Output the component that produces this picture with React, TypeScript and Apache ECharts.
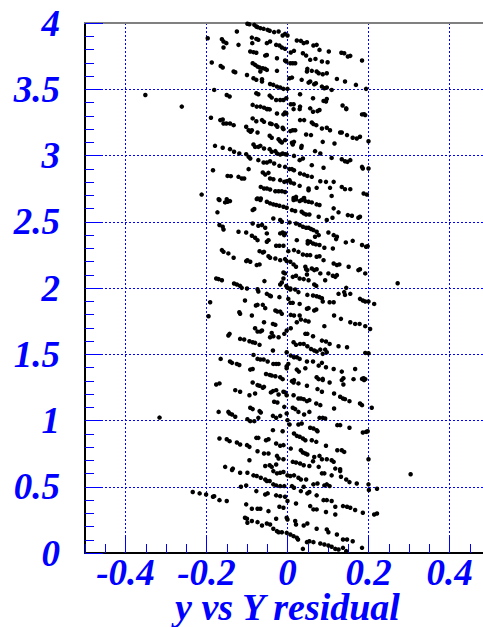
import React, { useEffect, useRef } from "react";
import * as echarts from "echarts";

// x tick labels (primary divisions) and y range
const xMajorTicks = [-0.4, -0.2, 0, 0.2, 0.4];
const xRange = [-0.5, 0.5];
const yRange = [0, 4];
const axisTitle = "y vs Y residual";

// residual (x) vs y points, grouped by y band
const band1: number[][] = [
  [-0.099,3.994],[-0.094,3.99],[-0.082,3.986],[-0.077,3.974],[-0.074,3.969],[-0.067,3.961],[-0.059,3.956],[-0.049,3.948],[-0.044,3.941],[-0.033,3.931],[-0.022,3.936],[-0.012,3.906],[-0.006,3.918],[0.0,3.906],
  [-0.125,3.936],[-0.088,3.89],[-0.077,3.88],[-0.072,3.873],[-0.087,3.848],[-0.051,3.848],[-0.043,3.86],[-0.028,3.835],[-0.02,3.83],[-0.014,3.815],[-0.006,3.805],
  [-0.197,3.885],[-0.162,3.878],[-0.158,3.86],[-0.151,3.848],[-0.158,3.815],[-0.121,3.835],
  [0.023,3.868],[0.033,3.865],[0.04,3.848],[0.048,3.855],[0.064,3.83],[0.072,3.835],[0.079,3.797],[0.102,3.785],[0.133,3.775],[0.14,3.772],[0.149,3.747],[0.155,3.752],[0.184,3.717],
  [0.016,3.79],[0.008,3.777],[0.038,3.772],[0.046,3.754],[0.056,3.722],[0.069,3.729],[0.085,3.709],[0.099,3.704],
  [-0.092,3.785],[-0.084,3.78],[-0.077,3.775],[-0.055,3.754],[-0.051,3.759],[-0.026,3.734],[-0.006,3.717],[-0.003,3.709],[0.007,3.696],[0.013,3.696],[0.019,3.696],
  [-0.187,3.702],[-0.165,3.676],[-0.16,3.664],[-0.133,3.634],[-0.129,3.628],[-0.1,3.608],[-0.086,3.696],[-0.08,3.684],[-0.074,3.671],[-0.069,3.664],[-0.061,3.659],[-0.055,3.654],[-0.051,3.646],[-0.067,3.634],[-0.026,3.639],
  [0.049,3.654],[0.048,3.634],[0.06,3.639],[0.072,3.634],[0.077,3.621],[0.087,3.613],[0.097,3.621],[0.035,3.571],[0.052,3.55],[0.056,3.558],[0.066,3.538],[0.07,3.545],[0.085,3.52],[0.091,3.508],[0.097,3.513],[0.109,3.495],[0.122,3.578],[0.142,3.558],[0.169,3.533],[0.194,3.503],
  [0.005,3.583],[0.011,3.588],[-0.084,3.583],[-0.077,3.571],[-0.063,3.576],[-0.063,3.558],[-0.043,3.54],[-0.035,3.533],[-0.026,3.52],[-0.018,3.513],[-0.01,3.503],[0.0,3.503],
  [-0.181,3.495],[-0.15,3.457],[-0.143,3.445],[-0.077,3.47],[-0.072,3.462],[-0.044,3.452],[-0.039,3.437],[-0.028,3.419],[-0.018,3.419],[-0.01,3.419],[-0.003,3.432],[0.031,3.462],[0.063,3.432],[0.089,3.412],[0.097,3.427],[0.095,3.407],[0.136,3.377],[0.145,3.356],
  [-0.086,3.382],[-0.076,3.369],[-0.067,3.369],[-0.058,3.361],[-0.049,3.351],[0.008,3.387],[0.015,3.387],[0.031,3.369],[0.056,3.356],[-0.261,3.369]
];

const band2: number[][] = [
  [-0.051,3.35],[-0.044,3.348],[-0.026,3.317],[-0.01,3.31],[-0.003,3.317],[-0.006,3.325],[0.015,3.35],[0.03,3.35],[0.063,3.33],[0.074,3.335],[0.079,3.343],[0.145,3.35],[0.184,3.31],[0.189,3.312],[0.192,3.305],
  [-0.189,3.285],[-0.166,3.267],[-0.16,3.272],[-0.158,3.242],[-0.151,3.242],[-0.142,3.242],[-0.133,3.229],
  [-0.102,3.217],[-0.096,3.191],[-0.092,3.184],[-0.088,3.191],[-0.091,3.179],[-0.074,3.174],
  [-0.086,3.28],[-0.077,3.259],[-0.063,3.267],[-0.058,3.254],[-0.043,3.242],[-0.039,3.237],[-0.028,3.229],[-0.025,3.217],[-0.012,3.209],[-0.01,3.199],
  [0.007,3.184],[0.013,3.191],[0.019,3.191],[0.031,3.267],[0.041,3.267],[0.06,3.249],[0.064,3.237],[0.071,3.229],[0.085,3.204],[0.097,3.209],[0.105,3.191],[0.13,3.174],[0.134,3.174],[0.147,3.154],[0.161,3.134],[0.171,3.128],[0.179,3.141],
  [-0.044,3.149],[-0.039,3.134],[-0.022,3.123],[-0.018,3.108],[-0.014,3.098],[-0.006,3.116],[0.011,3.096],[0.016,3.103],[0.013,3.083],
  [0.046,3.159],[0.058,3.154],[0.035,3.073],[0.034,3.058],[0.087,3.103],[0.116,3.091],[0.2,3.108],
  [-0.179,3.073],[-0.16,3.058],[-0.142,3.048],[-0.132,3.028],[-0.119,3.015],[-0.102,3.01],[-0.096,2.99],[-0.092,2.977],[-0.084,3.083],[-0.08,3.065],[-0.072,3.065],[-0.067,3.073],[-0.058,3.053],[-0.044,3.048],[-0.039,3.028],[-0.03,3.033],[-0.026,3.015],[-0.018,3.008],[-0.012,3.015],[-0.006,3.01],[-0.002,3.008],
  [0.016,2.997],[0.03,2.965],[0.038,2.977],[0.068,3.033],[0.081,3.015],[0.109,2.982],[0.134,2.972],[0.142,2.957],[0.148,2.952],[0.155,2.965],[0.184,2.914],[0.186,2.902],[0.2,2.902],
  [-0.072,2.965],[-0.059,2.947],[-0.051,2.947],[-0.043,2.957],[-0.033,2.94],[-0.02,2.922],[-0.006,2.914],
  [-0.184,2.889],[-0.148,2.846],[-0.14,2.844],[-0.121,2.839],[-0.113,2.826],[-0.107,2.826],[-0.096,2.897],[-0.061,2.872],[-0.055,2.856],[-0.047,2.869],[-0.043,2.826],[-0.035,2.821],[-0.018,2.814],[-0.008,2.801],[-0.002,2.806],
  [0.005,2.897],[0.011,2.897],[0.016,2.889],[0.031,2.864],[0.041,2.856],[0.049,2.846],[0.06,2.839],[0.081,2.806],[0.095,2.801],[0.114,2.801],[0.06,2.927],[0.089,2.907],
  [-0.066,2.763],[-0.058,2.751],[-0.051,2.751],[-0.043,2.743],[-0.03,2.73],[-0.022,2.73],[-0.014,2.73],[-0.006,2.725],
  [0.005,2.814],[0.008,2.796],[0.016,2.788],[0.03,2.771],[0.052,2.751],[0.052,2.738],[0.072,2.756],[0.105,2.756],[0.134,2.763],[0.142,2.746],[0.155,2.746],[0.188,2.713],[0.196,2.705],[0.109,2.695],
  [-0.212,2.705],[-0.17,2.67],[-0.15,2.67],[-0.074,2.675],[-0.066,2.675],[0.015,2.68],[0.021,2.688],[0.04,2.675],[0.041,2.68]
];

const band3: number[][] = [
  [-0.168,2.664],[-0.154,2.646],[-0.148,2.651],[-0.142,2.656],[-0.076,2.671],[-0.067,2.664],[-0.051,2.651],[-0.043,2.639],[-0.035,2.631],[-0.028,2.626],[-0.02,2.621],[-0.01,2.613],[-0.002,2.606],
  [0.015,2.664],[0.021,2.669],[0.03,2.656],[0.035,2.664],[0.044,2.656],[0.052,2.651],[0.06,2.646],[0.072,2.631],[0.079,2.626],[0.011,2.588],[0.019,2.581],[0.035,2.576],[0.04,2.563],[0.046,2.555],[0.054,2.555],[0.077,2.538],[0.097,2.513],[0.114,2.601],[0.126,2.571],[0.111,2.53],[0.149,2.55],[0.159,2.545],[0.175,2.53],[0.179,2.538],
  [-0.173,2.571],[-0.086,2.588],[-0.082,2.596],[-0.035,2.525],[-0.018,2.513],[-0.014,2.5],[0.005,2.495],[0.021,2.487],
  [-0.168,2.475],[-0.16,2.462],[-0.158,2.442],[-0.121,2.424],[-0.102,2.419],[-0.086,2.487],[-0.072,2.47],[-0.063,2.475],[-0.055,2.455],[-0.051,2.412],[-0.088,2.394],[-0.08,2.379],[-0.074,2.361],[-0.051,2.349],[-0.047,2.361],[-0.018,2.412],[-0.012,2.419],[-0.006,2.412],[-0.008,2.399],
  [0.03,2.475],[0.038,2.462],[0.046,2.455],[0.052,2.455],[0.058,2.445],[0.064,2.437],[0.072,2.424],[0.077,2.399],[0.068,2.387],[0.101,2.419],[0.114,2.399],[0.122,2.387],[0.12,2.369],[0.144,2.344],[0.161,2.356],[0.184,2.324],[0.194,2.311],[0.198,2.316],[0.023,2.361],[0.05,2.354],[0.056,2.349],[0.063,2.336],[0.07,2.329],[0.079,2.324],[0.091,2.304],[0.112,2.298],[0.05,2.336],
  [-0.028,2.319],[-0.02,2.319],[-0.01,2.319],[0.002,2.278],[0.016,2.286],[0.027,2.273],[0.038,2.253],[0.048,2.248],[0.056,2.248],[0.072,2.236],[0.079,2.24],[0.089,2.21],[0.114,2.185],[0.122,2.173],[0.128,2.178],[0.151,2.16],[0.175,2.135],[0.179,2.142],[0.192,2.11],
  [-0.162,2.286],[-0.158,2.273],[-0.146,2.261],[-0.133,2.228],[-0.102,2.203],[-0.092,2.198],[-0.099,2.21],[-0.076,2.173],[-0.069,2.178],[-0.069,2.278],[-0.061,2.268],[-0.058,2.273],[-0.047,2.24],[-0.043,2.228],[-0.03,2.223],[-0.018,2.21],[-0.006,2.218],[-0.002,2.203],[0.007,2.198],[0.015,2.178],[0.021,2.16],
  [0.044,2.16],[0.046,2.142],[0.049,2.135],[0.06,2.147],[0.066,2.135],[0.072,2.142],[0.081,2.11],[0.101,2.11],[0.118,2.084],[0.122,2.097],[0.048,2.102],
  [-0.176,2.072],[-0.17,2.067],[-0.162,2.059],[-0.132,2.034],[-0.125,2.026],[-0.117,2.016],[-0.113,2.001],[-0.1,1.996],[-0.074,1.991],[-0.057,2.052],[-0.018,2.026],[-0.014,2.042],[-0.01,2.117],[-0.003,2.016],[0.0,2.001],[0.007,1.996],[0.013,2.084],[0.021,2.092],[0.03,2.072],[0.04,2.067],[0.052,2.059],[0.066,2.026],[0.071,2.016],[0.093,2.059],[0.112,2.092],[0.145,2.001],[-0.006,2.11],[-0.01,2.072]
];

const band4: number[][] = [
  [-0.072,1.974],[-0.051,1.956],[-0.044,1.943],[-0.041,1.938],[-0.02,1.931],[0.007,1.989],[0.019,1.989],[0.027,1.969],[0.049,1.948],[0.063,1.943],[0.072,1.938],[0.079,1.931],[0.085,1.923],[0.126,1.956],[0.14,1.969],[0.142,1.948],[0.155,1.956],[0.179,1.918],[0.186,1.906],[0.192,1.898],[0.2,1.898],[0.214,1.88],
  [-0.191,1.893],[-0.195,1.787],[-0.105,1.906],[-0.078,1.868],[-0.074,1.873],[-0.061,1.873],[-0.055,1.848],[-0.03,1.83],[-0.025,1.822],[-0.018,1.822],[-0.014,1.805],[-0.119,1.817],[-0.117,1.805],[-0.088,1.792],[-0.058,1.742],[-0.036,1.729],[-0.03,1.722],
  [0.002,1.918],[0.007,1.888],[0.013,1.888],[0.03,1.88],[0.048,1.843],[0.052,1.848],[0.066,1.83],[0.071,1.838],[0.087,1.898],[0.104,1.893],[0.114,1.893],
  [0.008,1.797],[0.016,1.792],[0.03,1.792],[0.033,1.762],[0.044,1.754],[0.052,1.747],[0.023,1.742],[0.115,1.792],[0.132,1.767],[0.155,1.742],[0.167,1.729],[0.178,1.729],[0.192,1.712],[0.204,1.691],[0.091,1.712],
  [-0.143,1.654],[-0.146,1.641],[-0.08,1.696],[-0.074,1.671],[-0.067,1.671],[-0.063,1.679],[-0.039,1.661],[-0.043,1.628],[-0.035,1.636],[-0.022,1.628],[-0.008,1.654],[-0.002,1.679],[0.008,1.696],
  [-0.117,1.616],[-0.107,1.611],[-0.094,1.598],[-0.086,1.591],[-0.08,1.586],[-0.069,1.571],[-0.036,1.528],[-0.002,1.515],[0.015,1.591],[0.021,1.571],[0.031,1.578],[0.04,1.578],[0.044,1.654],[0.049,1.654],[0.063,1.636],[0.085,1.603],[0.095,1.596],[0.104,1.578],[0.049,1.56],[0.058,1.54],[0.066,1.528],[0.072,1.52],[0.081,1.535],[0.087,1.503],[0.097,1.515],[0.126,1.56],[0.147,1.553],[0.192,1.51],[0.2,1.508],[0.093,1.535],
  [-0.165,1.465],[-0.142,1.445],[-0.137,1.435],[-0.125,1.427],[-0.119,1.419],[-0.084,1.495],[-0.074,1.465],[-0.067,1.46],[-0.059,1.46],[-0.049,1.445],[-0.035,1.427],[-0.028,1.427],[-0.022,1.427],[-0.002,1.409],[0.002,1.427],[0.008,1.49],[0.016,1.477],[0.023,1.477],[0.03,1.465],[0.048,1.445],[0.063,1.445],[0.077,1.414],[0.085,1.435],[0.095,1.402],[0.114,1.389],[0.134,1.369],[0.167,1.389],
  [-0.092,1.384],[-0.086,1.389],[-0.053,1.351],[-0.044,1.344],[-0.039,1.339],[-0.03,1.334],[-0.018,1.326],[-0.002,1.394],[0.023,1.384],[0.028,1.369],[0.044,1.394],[0.072,1.326],[0.087,1.314],[0.138,1.319],[0.184,1.314],[0.188,1.319]
];

const band5: number[][] = [
  [-0.176,1.272],[-0.168,1.28],[-0.086,1.287],[-0.074,1.267],[-0.069,1.262],[-0.061,1.247],[-0.058,1.254],[-0.012,1.312],[0.011,1.297],[0.015,1.287],[0.016,1.305],[0.027,1.28],[0.048,1.262],[0.077,1.312],[0.087,1.305],[0.104,1.287],[0.134,1.305],[0.138,1.272],[0.163,1.312],[0.189,1.305],[0.192,1.312],
  [-0.129,1.229],[-0.117,1.217],[-0.094,1.191],[-0.08,1.204],[-0.041,1.212],[-0.036,1.222],[-0.028,1.229],[-0.022,1.196],[-0.01,1.217],[-0.006,1.212],[-0.002,1.191],[0.015,1.191],[0.027,1.166],[0.033,1.166],[0.04,1.161],[0.048,1.146],[0.054,1.154],[0.071,1.128],[0.081,1.116],[0.074,1.237],[0.085,1.217],[0.115,1.204],[0.13,1.179],[0.137,1.166],[0.142,1.161],[0.153,1.146],[0.179,1.128],[0.184,1.116],[0.208,1.096],
  [-0.17,1.065],[-0.146,1.065],[-0.143,1.053],[-0.137,1.045],[-0.129,1.028],[-0.099,1.01],[-0.092,0.995],[-0.082,0.995],[-0.072,1.02],[-0.069,1.071],[-0.066,1.06],[-0.092,1.096],[-0.086,1.086],[-0.033,1.141],[-0.025,1.136],[-0.036,1.035],[-0.028,1.02],[-0.018,1.035],[-0.008,1.103],[-0.002,1.053],[0.0,1.003],[0.013,1.096],[0.019,1.086],[0.027,1.065],[0.041,1.045],[0.054,1.065],[0.079,1.02],[0.087,1.02],[0.093,1.015],[0.115,1.091],
  [0.005,0.97],[0.016,0.902],[0.023,0.884],[0.027,0.97],[0.035,0.977],[0.056,0.945],[0.064,0.94],[0.072,0.927],[0.074,0.919],[0.123,0.965],[0.13,0.965],[0.153,0.945],[0.186,0.909],[0.194,0.914],[0.198,0.919],
  [-0.036,0.927],[-0.012,0.919],[-0.168,0.864],[-0.15,0.859],[-0.143,0.844],[-0.125,0.834],[-0.117,0.819],[-0.1,0.814],[-0.094,0.801],[-0.077,0.869],[-0.072,0.869],[-0.053,0.851],[-0.047,0.859],[-0.028,0.826],[-0.018,0.809],[-0.01,0.814],[0.008,0.788],[0.03,0.877],[0.038,0.864],[0.044,0.851],[0.06,0.851],[0.071,0.839],[0.095,0.809],[0.123,0.776],[0.134,0.776],[0.14,0.763],
  [-0.074,0.768],[-0.058,0.751],[-0.047,0.751],[-0.026,0.733],[-0.022,0.713],[-0.01,0.708],[0.033,0.776],[0.038,0.758],[0.044,0.751],[0.049,0.743],[0.066,0.725],[0.079,0.733],[0.085,0.708],[0.097,0.708],[0.109,0.7],[0.114,0.688],[0.2,0.708],[-0.094,0.7],
  [-0.154,0.65],[-0.135,0.637],[-0.055,0.657],[-0.044,0.662],[-0.039,0.65],[-0.028,0.668],[0.013,0.688],[0.021,0.683],[0.031,0.675],[0.04,0.662],[0.054,0.657],[0.063,0.693],[0.077,0.65],[0.118,0.637],[0.13,0.632]
];

const band6: number[][] = [
  [-0.137,0.626],[-0.117,0.606],[-0.099,0.606],[-0.084,0.586],[-0.076,0.581],[-0.066,0.568],[-0.055,0.555],[-0.051,0.543],[-0.044,0.543],[-0.035,0.618],[-0.026,0.601],[-0.018,0.606],[-0.01,0.611],[0.0,0.586],[0.007,0.581],[0.016,0.586],[0.027,0.568],[0.033,0.555],[0.046,0.555],[0.085,0.601],[0.091,0.601],[0.109,0.586],[0.13,0.618],[0.132,0.576],[0.145,0.555],[0.153,0.535],[0.171,0.525],[0.2,0.518],[0.201,0.475],[0.221,0.485],
  [-0.234,0.46],[-0.217,0.45],[-0.201,0.442],[-0.184,0.424],[-0.181,0.429],[-0.168,0.399],[-0.15,0.392],[-0.115,0.5],[-0.102,0.51],[-0.077,0.467],[-0.055,0.442],[-0.049,0.45],[-0.035,0.518],[-0.028,0.51],[-0.018,0.505],[-0.008,0.505],[0.011,0.505],[0.016,0.492],[0.033,0.467],[0.049,0.45],[0.054,0.46],[0.072,0.435],[0.064,0.518],[0.074,0.525],[0.091,0.51],[0.097,0.518],[0.104,0.505],[-0.028,0.435],[-0.018,0.429],[-0.006,0.424],[0.04,0.5],
  [-0.102,0.367],[-0.088,0.334],[-0.074,0.334],[-0.067,0.334],[-0.047,0.316],[-0.02,0.349],[-0.01,0.341],[0.0,0.392],[0.021,0.374],[0.056,0.354],[0.064,0.329],[0.072,0.329],[0.089,0.399],[0.097,0.399],[0.109,0.392],[0.118,0.349],[0.137,0.354],[0.147,0.349],[0.155,0.341],[0.167,0.324],[0.186,0.304],[0.214,0.291],[0.221,0.298],[0.095,0.309],[0.118,0.291],
  [-0.105,0.266],[-0.1,0.258],[-0.099,0.228],[-0.088,0.241],[-0.074,0.233],[-0.063,0.208],[-0.051,0.223],[-0.043,0.215],[-0.028,0.258],[-0.002,0.266],[0.0,0.253],[0.019,0.241],[0.021,0.215],[0.04,0.208],[0.049,0.223],[0.072,0.183],[0.097,0.178],[0.101,0.157],[0.122,0.14],
  [-0.035,0.183],[-0.026,0.165],[-0.022,0.157],[-0.014,0.157],[-0.002,0.152],[0.007,0.14],[0.015,0.127],[0.023,0.115],[0.026,0.102],[0.048,0.082],[0.054,0.089],[0.064,0.082],[0.081,0.072],[0.091,0.064],[0.101,0.057],[0.109,0.047],[0.118,0.031],[0.126,0.026],[0.137,0.039],[0.145,0.014],[0.137,0.102],[0.147,0.102],[0.161,0.089],[0.038,0.031],[0.184,0.039]
];

const outliers: number[][] = [
  [-0.351,3.457],[-0.316,1.022],[0.304,0.594],[0.272,2.036]
];

const BLUE = "#0000ff";
const FONT = { fontFamily: "Liberation Serif", fontStyle: "italic" as const, fontWeight: "bold" as const, color: BLUE, fontSize: 37 };

export default function App() {
  const ref = useRef<HTMLDivElement>(null);
  useEffect(() => {
    if (!ref.current) return;
    const chart = echarts.init(ref.current, null, { renderer: "svg" });
    const points = [...band1, ...band2, ...band3, ...band4, ...band5, ...band6, ...outliers];
    chart.setOption({
      animation: false,
      backgroundColor: "#ffffff",
      grid: { left: 85, top: 23, right: -7, bottom: 74, outerBoundsMode: "none", containLabel: false },
      xAxis: [
        {
          type: "value", min: xRange[0], max: xRange[1], interval: 0.05, position: "bottom",
          axisLine: { show: true, onZero: false, lineStyle: { color: "#000", width: 2 } },
          axisTick: { show: true, inside: true, length: 9, lineStyle: { color: BLUE, width: 1 } },
          axisLabel: { show: false },
          splitLine: { show: false },
          name: axisTitle, nameLocation: "middle", nameGap: 40,
          nameTextStyle: { ...FONT, fontSize: 38, lineHeight: 28 },
        },
        {
          type: "value", min: xRange[0], max: xRange[1], position: "bottom",
          axisLine: { show: false, onZero: false },
          axisTick: { show: true, inside: true, length: 18, customValues: xMajorTicks, lineStyle: { color: BLUE, width: 1 } },
          axisLabel: { show: true, customValues: xMajorTicks, margin: 6, lineHeight: 26, ...FONT },
          splitLine: { show: true, lineStyle: { color: BLUE, width: 1, type: [2, 2] } },
        },
        {
          type: "value", min: xRange[0], max: xRange[1], position: "top",
          axisLine: { show: true, onZero: false, lineStyle: { color: "#808080", width: 2 } },
          axisTick: { show: false }, axisLabel: { show: false }, splitLine: { show: false },
        },
      ],
      yAxis: {
        type: "value", min: yRange[0], max: yRange[1], interval: 0.5,
        axisLine: { show: true, onZero: false, lineStyle: { color: "#000", width: 2 } },
        axisTick: { show: true, inside: true, length: 18, lineStyle: { color: BLUE, width: 1 } },
        minorTick: { show: true, splitNumber: 5, length: 9, lineStyle: { color: BLUE, width: 1 } },
        axisLabel: { margin: 25, ...FONT },
        splitLine: { show: true, lineStyle: { color: BLUE, width: 1, type: [2, 2] } },
      },
      series: [
        {
          type: "scatter", xAxisIndex: 0, yAxisIndex: 0, data: points,
          symbol: "circle", symbolSize: 4.5, itemStyle: { color: "#000", opacity: 1 },
        },
      ],
    });
    return () => chart.dispose();
  }, []);
  return <div ref={ref} style={{ position: "absolute", left: 0, top: 0, width: 483, height: 627, background: "#fff" }} />;
}
